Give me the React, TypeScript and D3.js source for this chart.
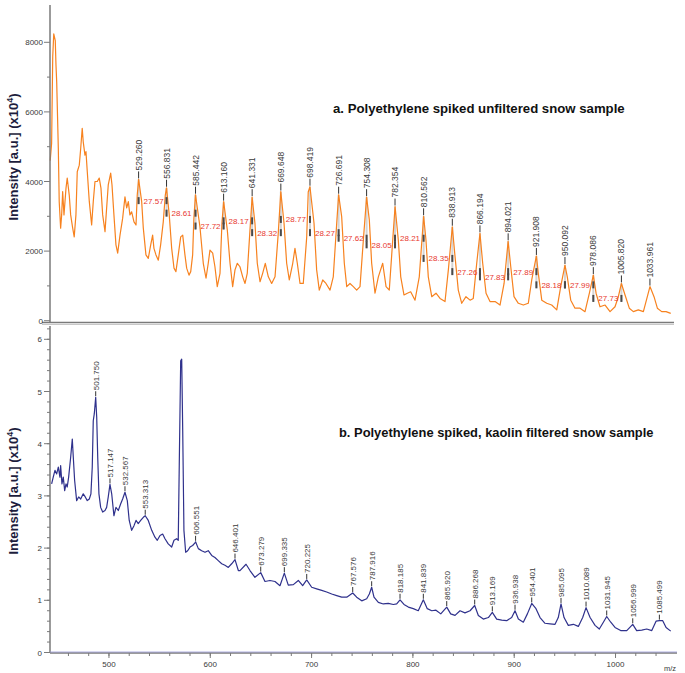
import React from "react";
import * as d3 from "d3";

// ---------- DATA ----------
// Panel a: orange spectrum [m/z, intensity]
const topSpectrum: [number, number][] = [
  [442.0, 4600], [443.4, 5100], [444.5, 7600], [445.5, 8240], [447.0, 8050], [447.7, 7350], [448.4, 6870],
  [450.0, 4960], [450.9, 3420], [452.3, 2660], [453.3, 3040], [454.3, 3710], [455.6, 3040], [457.6, 3810],
  [458.8, 4100], [460.8, 3610], [462.2, 3040], [464.2, 2660], [465.7, 2410], [467.4, 3040], [468.7, 4280],
  [470.7, 4470], [472.1, 4950], [473.6, 5530], [474.6, 5140], [476.3, 4760], [477.3, 4860], [478.6, 4280],
  [480.6, 3420], [482.9, 2750], [484.5, 3420], [486.2, 4000], [488.5, 4000], [490.4, 4100], [492.1, 3810],
  [493.8, 3040], [496.1, 2560], [497.7, 3240], [499.3, 3900], [501.7, 4240], [503.0, 3900], [504.9, 3040],
  [506.9, 2180], [508.6, 1940], [510.9, 2460], [513.5, 2940], [515.8, 3560], [517.5, 3240], [519.1, 3420],
  [520.7, 3040], [522.4, 3130], [524.7, 2840], [526.7, 2750], [527.9, 3610], [529.3, 4060], [532.3, 3420],
  [533.9, 2660], [536.5, 1890], [538.8, 1790], [541.2, 2180], [543.1, 2460], [544.4, 2080], [546.4, 1890],
  [548.7, 1740], [551.0, 2180], [553.6, 2840], [555.6, 3610], [556.8, 3820], [559.5, 3040], [561.9, 2080],
  [564.2, 1510], [566.1, 1410], [568.4, 1890], [570.8, 2410], [572.8, 2460], [575.0, 1890], [576.7, 1510],
  [579.0, 1310], [580.7, 1410], [582.6, 1890], [583.8, 2940], [585.4, 3620], [589.8, 2700], [593.1, 1650],
  [595.8, 1220], [598.0, 1650], [599.7, 2030], [602.4, 1940], [604.6, 1550], [606.9, 980], [609.6, 1360],
  [611.5, 2800], [613.2, 3420], [616.8, 2610], [619.5, 1650], [622.1, 980], [624.4, 1460], [626.7, 1650],
  [629.3, 1550], [632.0, 1260], [634.3, 1070], [636.5, 1360], [639.2, 2610], [641.3, 3550], [644.1, 2800],
  [646.4, 1650], [649.1, 1120], [651.7, 1360], [654.3, 1650], [657.3, 1260], [660.6, 1070], [663.9, 1260],
  [667.1, 2510], [669.6, 3710], [672.8, 2800], [675.4, 1650], [678.0, 1170], [681.4, 1650], [683.6, 2080],
  [685.9, 1650], [688.6, 1070], [691.8, 1070], [695.2, 2410], [696.7, 3700], [698.4, 3850], [702.4, 2800],
  [705.0, 1460], [707.6, 880], [711.0, 1170], [714.2, 1070], [718.2, 880], [721.4, 1260], [724.8, 2800],
  [726.7, 3620], [729.7, 2990], [732.3, 1650], [734.7, 980], [737.9, 1070], [741.2, 980], [744.5, 880],
  [747.8, 980], [751.1, 2320], [754.3, 3550], [757.0, 2890], [759.3, 1650], [762.6, 790], [765.9, 1260],
  [770.2, 1650], [773.5, 980], [776.7, 880], [780.1, 2320], [782.4, 3280], [785.6, 2320], [788.0, 1260],
  [791.2, 740], [794.5, 790], [797.8, 830], [802.1, 590], [806.3, 1260], [810.6, 3000], [812.9, 2320],
  [815.2, 1260], [818.6, 690], [822.8, 790], [826.8, 640], [831.7, 550], [835.0, 1460], [838.9, 2700],
  [841.6, 1840], [844.8, 880], [848.2, 500], [852.4, 690], [856.4, 590], [859.6, 640], [863.0, 1650],
  [866.2, 2510], [868.9, 1650], [872.2, 790], [876.1, 550], [881.1, 550], [886.0, 450], [890.0, 1070],
  [894.0, 2280], [896.6, 1550], [899.8, 690], [904.1, 500], [909.0, 450], [913.9, 500], [917.3, 1170],
  [921.9, 1860], [923.8, 1360], [927.2, 590], [932.1, 500], [937.0, 450], [942.0, 310], [945.9, 980],
  [950.1, 1600], [952.4, 1260], [955.8, 590], [960.0, 360], [965.0, 360], [969.9, 260], [974.2, 790],
  [978.1, 1310], [980.8, 790], [984.7, 400], [989.7, 450], [994.6, 260], [999.5, 400], [1002.8, 690],
  [1005.8, 1070], [1009.4, 740], [1013.6, 360], [1017.6, 260], [1022.5, 310], [1027.5, 260], [1031.4, 690],
  [1034.0, 980], [1038.0, 690], [1041.3, 360], [1045.6, 260], [1049.9, 260], [1054.5, 210],
];

// Panel a: labelled peaks (m/z) and the intensity at their tops
const topPeakMz = [529.26, 556.831, 585.442, 613.16, 641.331, 669.648, 698.419, 726.691, 754.308, 782.354,
  810.562, 838.913, 866.194, 894.021, 921.908, 950.092, 978.086, 1005.82, 1033.961];
const topPeakInt = [4060, 3820, 3620, 3420, 3550, 3710, 3850, 3620, 3550, 3280,
  3000, 2700, 2510, 2280, 1860, 1600, 1310, 1070, 980];

// Panel a: mass differences between consecutive peaks and the level they are drawn at
const topDiffs = [27.57, 28.61, 27.72, 28.17, 28.32, 28.77, 28.27, 27.62, 28.05, 28.21, 28.35, 27.26,
  27.83, 27.89, 28.18, 27.99, 27.73];
const topDiffLevel = [3450, 3090, 2720, 2870, 2530, 2910, 2530, 2370, 2180, 2370, 1790, 1410,
  1260, 1410, 1030, 1030, 640];

// Panel b: blue spectrum [m/z, intensity x10^4]
const bottomSpectrum: [number, number][] = [
  [443.4, 3.23], [445.0, 3.36], [446.7, 3.49], [448.4, 3.42], [450.0, 3.55], [451.6, 3.36], [452.3, 3.58],
  [453.6, 3.23], [454.9, 3.36], [456.3, 3.10], [457.6, 3.23], [458.8, 3.17], [460.2, 3.36], [462.2, 3.74],
  [463.8, 4.09], [464.8, 3.74], [466.1, 3.30], [468.1, 2.91], [470.1, 2.98], [472.1, 2.94], [474.6, 3.04],
  [476.6, 2.98], [478.6, 2.91], [480.6, 2.94], [482.2, 3.04], [483.5, 3.55], [484.5, 4.44], [485.5, 4.57],
  [486.9, 4.89], [487.9, 4.51], [488.9, 3.74], [490.1, 3.04], [491.8, 2.78], [493.8, 2.69], [496.1, 2.72],
  [497.7, 2.78], [499.3, 2.98], [501.0, 3.22], [502.7, 3.04], [504.9, 2.62], [506.9, 2.78], [509.2, 2.72],
  [511.6, 2.85], [513.5, 2.94], [515.8, 3.07], [518.1, 2.91], [520.0, 2.53], [522.4, 2.34], [524.7, 2.43],
  [526.7, 2.53], [528.9, 2.47], [531.3, 2.53], [533.9, 2.59], [535.8, 2.62], [538.8, 2.53], [542.2, 2.34],
  [545.4, 2.21], [547.7, 2.15], [550.4, 2.24], [553.0, 2.27], [555.3, 2.18], [558.5, 2.08], [561.9, 2.02],
  [564.2, 2.15], [566.8, 2.18], [568.4, 2.15], [569.4, 3.61], [570.8, 5.59], [571.8, 5.62], [572.8, 4.25],
  [574.0, 2.34], [575.7, 1.92], [577.7, 1.95], [580.0, 2.02], [582.6, 2.05], [584.9, 2.1], [585.5, 2.12],
  [588.2, 1.99], [591.5, 1.95], [594.8, 1.92], [598.0, 1.95], [601.4, 1.86], [604.6, 1.82], [607.9, 1.76],
  [611.3, 1.70], [614.5, 1.67], [617.8, 1.63], [621.1, 1.70], [624.4, 1.78], [627.7, 1.57], [629.3, 1.57],
  [635.3, 1.69], [639.2, 1.57], [644.1, 1.44], [649.8, 1.53], [654.0, 1.36], [658.9, 1.38], [663.9, 1.36],
  [668.8, 1.28], [673.1, 1.52], [677.0, 1.29], [682.0, 1.30], [686.9, 1.38], [691.2, 1.28], [695.2, 1.39],
  [700.1, 1.25], [705.0, 1.22], [710.0, 1.19], [714.9, 1.16], [719.9, 1.12], [724.8, 1.09], [729.7, 1.06],
  [734.7, 1.06], [740.6, 1.14], [744.5, 1.06], [749.5, 0.99], [754.4, 1.03], [757.0, 1.12], [759.3, 1.25],
  [761.6, 1.06], [765.9, 0.96], [770.8, 0.93], [775.7, 0.94], [780.7, 0.92], [784.0, 0.93], [787.3, 1.01],
  [791.2, 0.92], [795.5, 0.87], [800.4, 0.84], [805.3, 0.80], [810.3, 1.01], [814.2, 0.84], [818.6, 0.80],
  [822.8, 0.81], [827.5, 0.74], [833.4, 0.87], [837.3, 0.74], [841.6, 0.71], [846.5, 0.80], [851.4, 0.76],
  [856.4, 0.80], [861.0, 0.90], [864.6, 0.71], [869.5, 0.64], [874.5, 0.67], [878.4, 0.77], [882.7, 0.64],
  [887.7, 0.62], [892.6, 0.61], [897.5, 0.67], [900.8, 0.80], [904.1, 0.64], [909.0, 0.58], [913.0, 0.74],
  [917.3, 0.94], [921.5, 0.84], [925.5, 0.67], [930.4, 0.56], [935.4, 0.55], [940.3, 0.54], [943.5, 0.67],
  [946.2, 0.93], [949.2, 0.67], [953.4, 0.52], [958.4, 0.54], [963.3, 0.50], [967.6, 0.67], [970.9, 0.86],
  [974.9, 0.67], [979.8, 0.52], [984.0, 0.45], [988.0, 0.58], [991.3, 0.69], [995.3, 0.58], [999.5, 0.48],
  [1005.1, 0.42], [1011.1, 0.42], [1017.0, 0.54], [1020.9, 0.42], [1025.9, 0.43], [1030.8, 0.45],
  [1035.8, 0.42], [1040.0, 0.60], [1043.3, 0.61], [1046.6, 0.61], [1049.9, 0.48], [1054.5, 0.41],
];

// Panel b: peak annotations (printed label), where the peak sits on the axis, and its height
const bottomPeakLabels = ["501.750", "517.147", "532.567", "553.313", "606.551", "646.401", "673.279",
  "699.335", "720.225", "767.576", "787.916", "818.185", "841.839", "865.920", "886.268", "913.169",
  "936.938", "954.401", "985.095", "1010.089", "1031.945", "1056.999", "1085.499"];
const bottomPeakMz = [486.9, 501.0, 515.8, 535.8, 585.5, 624.4, 649.8, 673.1, 695.2, 740.6, 759.3, 787.3,
  810.3, 833.4, 861.0, 878.4, 900.8, 917.3, 946.2, 970.9, 991.3, 1017.0, 1043.3];
const bottomPeakInt = [4.89, 3.22, 3.07, 2.62, 2.12, 1.78, 1.53, 1.52, 1.39, 1.14, 1.25, 1.01, 1.01, 0.87,
  0.9, 0.77, 0.8, 0.94, 0.93, 0.86, 0.69, 0.54, 0.61];

const topYTicks = [0, 2000, 4000, 6000, 8000];
const topYMinor = [1000, 3000, 5000, 7000];
const bottomYTicks = [0, 1, 2, 3, 4, 5, 6];
const xTicks = [500, 600, 700, 800, 900, 1000];

const titleA = "a. Polyethylene spiked unfiltered snow sample";
const titleB = "b. Polyethylene spiked, kaolin filtered snow sample";
const xLabel = "m/z";

// ---------- CHART ----------
const FONT = "'Liberation Sans', Arial, sans-serif";
const AXIS = "#7a7a7a";
const TXT = "#3a3a3a";

export default function App() {
  const x = d3.scaleLinear().domain([441.8, 1059.7]).range([50, 676]);
  const yTop = d3.scaleLinear().domain([0, 9000]).range([320.7, 7.5]);
  const yBot = d3.scaleLinear().domain([0, 6.25]).range([652.5, 326.25]);

  const lineTop = d3.line<[number, number]>().x((d) => x(d[0])).y((d) => yTop(d[1]));
  const lineBot = d3.line<[number, number]>().x((d) => x(d[0])).y((d) => yBot(d[1]));

  const botMinor = d3.range(0, 6.2001, 0.2);
  const xMinor = d3.range(460, 1060, 20);

  // lowest marker level per top peak
  const lowest = topPeakMz.map((_, i) => {
    const lv: number[] = [];
    if (i < topDiffLevel.length) lv.push(topDiffLevel[i]);
    if (i > 0 && i - 1 < topDiffLevel.length) lv.push(topDiffLevel[i - 1]);
    return lv.length ? Math.min(...lv) : null;
  });

  const yTitle = (cy: number) => (
    <text
      transform={`translate(18,${cy}) rotate(-90)`}
      textAnchor="middle"
      fontFamily={FONT}
      fontWeight="bold"
      fontSize={13}
      fill="#1d1d3d"
    >
      Intensity [a.u.] (x10<tspan dy={-5} fontSize={9}>4</tspan>
      <tspan dy={5}>)</tspan>
    </text>
  );

  return (
    <svg
      width={685}
      height={673}
      style={{ position: "absolute", left: 0, top: 0, background: "#fff" }}
      fontFamily={FONT}
    >
      {/* ---------- Panel a ---------- */}
      {topPeakMz.map((m, i) =>
        lowest[i] !== null ? (
          <line
            key={"g" + i}
            x1={x(m)}
            x2={x(m)}
            y1={yTop(topPeakInt[i])}
            y2={yTop(lowest[i] as number) + 3}
            stroke="#d4d4d4"
            strokeWidth={2}
          />
        ) : null
      )}
      <path d={lineTop(topSpectrum) || ""} fill="none" stroke="#f7821f" strokeWidth={1.2} strokeLinejoin="round" />

      {topDiffs.map((dv, i) => {
        const ly = yTop(topDiffLevel[i]);
        const x1 = x(topPeakMz[i]);
        const x2 = x(topPeakMz[i + 1]);
        return (
          <g key={"d" + i}>
            <rect x={x1 - 1} y={ly - 3.5} width={2} height={7} fill="#4a4a4a" />
            <rect x={x2 - 1} y={ly - 3.5} width={2} height={7} fill="#4a4a4a" />
            <text x={x1 + 5} y={ly + 3} fontSize={8} fill="#e8392f">
              {dv.toFixed(2)}
            </text>
          </g>
        );
      })}

      {topPeakMz.map((m, i) => {
        const px = x(m);
        const py = yTop(topPeakInt[i]);
        return (
          <g key={"p" + i}>
            <line x1={px} x2={px} y1={py - 1} y2={py - 8} stroke="#333" strokeWidth={1} />
            <text transform={`translate(${px + 3},${py - 9}) rotate(-90)`} fontSize={8.5} fill={TXT}>
              {m.toFixed(3)}
            </text>
          </g>
        );
      })}

      <line x1={50} x2={50} y1={5} y2={322} stroke={AXIS} strokeWidth={1.5} />
      <line x1={42} x2={674} y1={322.5} y2={322.5} stroke={AXIS} strokeWidth={1.5} />
      <line x1={42} x2={674} y1={324.5} y2={324.5} stroke="#c8c8c8" strokeWidth={1} />
      {topYTicks.map((t) => (
        <g key={"ty" + t}>
          <line x1={44} x2={50} y1={yTop(t)} y2={yTop(t)} stroke={AXIS} strokeWidth={1} />
          <text x={43} y={yTop(t) + 3} fontSize={8} textAnchor="end" fill={TXT}>
            {t}
          </text>
        </g>
      ))}
      {topYMinor.map((t) => (
        <line key={"tym" + t} x1={47} x2={50} y1={yTop(t)} y2={yTop(t)} stroke={AXIS} strokeWidth={1} />
      ))}
      {yTitle(157)}
      <text x={333} y={112.5} fontSize={13.2} fontWeight="bold" fill="#111">
        {titleA}
      </text>

      {/* ---------- Panel b ---------- */}
      <path d={lineBot(bottomSpectrum) || ""} fill="none" stroke="#2f318c" strokeWidth={1.2} strokeLinejoin="round" />
      {bottomPeakMz.map((m, i) => {
        const px = x(m);
        const py = yBot(bottomPeakInt[i]);
        return (
          <g key={"b" + i}>
            <line x1={px} x2={px} y1={py - 1} y2={py - 6} stroke="#333" strokeWidth={1} />
            <text transform={`translate(${px + 3},${py - 7}) rotate(-90)`} fontSize={8} fill={TXT}>
              {bottomPeakLabels[i]}
            </text>
          </g>
        );
      })}

      <line x1={50} x2={50} y1={326} y2={653} stroke={AXIS} strokeWidth={1.5} />
      <line x1={50} x2={677} y1={653} y2={653} stroke={AXIS} strokeWidth={1.5} />
      <line x1={50} x2={677} y1={652} y2={652} stroke="#9a9ad8" strokeWidth={0.8} />
      {botMinor.map((t, i) => (
        <line key={"bym" + i} x1={47} x2={50} y1={yBot(t)} y2={yBot(t)} stroke={AXIS} strokeWidth={1} />
      ))}
      {bottomYTicks.map((t) => (
        <g key={"by" + t}>
          <line x1={44} x2={50} y1={yBot(t)} y2={yBot(t)} stroke={AXIS} strokeWidth={1} />
          <text x={42} y={yBot(t) + 3} fontSize={8} textAnchor="end" fill={TXT}>
            {t}
          </text>
        </g>
      ))}
      {xMinor.map((t) => (
        <line key={"xm" + t} x1={x(t)} x2={x(t)} y1={653} y2={656} stroke={AXIS} strokeWidth={1} />
      ))}
      {xTicks.map((t) => (
        <g key={"xt" + t}>
          <line x1={x(t)} x2={x(t)} y1={653} y2={658} stroke={AXIS} strokeWidth={1} />
          <text x={x(t)} y={667} fontSize={8} textAnchor="middle" fill={TXT}>
            {t}
          </text>
        </g>
      ))}
      <text x={670} y={671} fontSize={7.5} textAnchor="middle" fill={TXT}>
        {xLabel}
      </text>
      {yTitle(491)}
      <text x={339} y={436.5} fontSize={12.9} fontWeight="bold" fill="#111">
        {titleB}
      </text>
    </svg>
  );
}
